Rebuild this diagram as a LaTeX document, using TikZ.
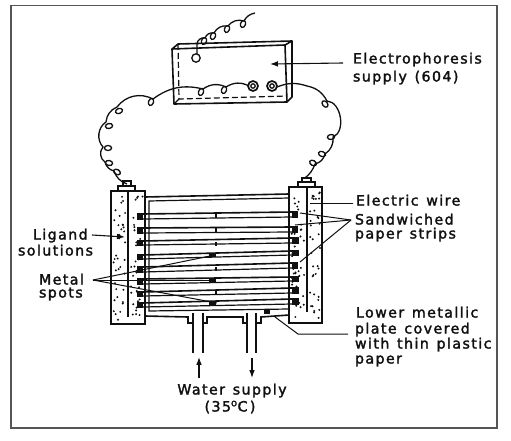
\documentclass[tikz,border=0pt]{standalone}
\usepackage{fontspec}
\setmainfont{DejaVu Sans}[FakeBold=2,LetterSpace=10,WordSpace=1.3]
\usetikzlibrary{arrows.meta}
\definecolor{scanInk}{HTML}{101010}
\definecolor{scanFrame}{HTML}{555555}

\begin{document}
\begin{tikzpicture}[
  x=1pt,y=-1pt,
  font=\rmfamily\fontsize{14.2}{15}\selectfont,
  every node/.style={text=scanInk,outer sep=0pt},
  lab/.style={anchor=west,inner sep=0pt,text height=10pt,text depth=3pt},
  wall/.style={line width=1.6pt,draw=scanInk},
  thin wall/.style={line width=1.2pt,draw=scanInk},
  wire/.style={line width=1.3pt,draw=scanInk},
  lead/.style={line width=1pt,draw=scanInk},
  flow/.style={-{Latex[length=2.8mm,width=2mm]},line width=1.1pt,draw=scanInk}
]
\path[use as bounding box] (0,0) rectangle (511,441);
\draw[line width=1.4pt,draw=scanFrame] (11,5.5) rectangle (497,428);
% supply box
\draw[wall,line join=round] (172,49) -- (285,45) -- (287,102) -- (174,104) -- cycle;
\draw[wall,line join=round] (172,49) -- (178,44) -- (292,41) -- (292,97) -- (287,102);
\draw[wall] (285,45) -- (292,41);
\draw[thin wall,dash pattern=on 6pt off 3pt] (178,44) -- (179,99) -- (287,96);
\draw[thin wall] (179,99) -- (174,104);
\draw[wire] (196,58) circle (4.2);
\foreach \tx in {253,272}{
  \draw[line width=1.7pt,draw=scanInk] (\tx,86) circle (5);
  \draw[wire] (\tx,86) circle (2.2);
}
% wires
\draw[wire] (197,54) -- (197,44) to[bend left=50] (205,38) to[bend left=40] (214,33)
  to[bend left=35] (228,26) to[bend left=35] (244,21) to[bend left=25] (255,13);
\draw[wire] (249,86) to[bend right=30] (226,87) to[bend right=30] (203,89) to[bend right=25] (153,99)
  to[bend right=40] (117,107) to[bend right=30] (106,122) to[bend right=50] (103,147)
  to[bend right=50] (105,162) to[bend right=30] (114,171) to[bend right=25] (127,184);
\draw[wire] (277,87) to[bend left=20] (307,86) to[bend left=25] (327,101) to[bend left=78] (333,137)
  to[bend left=30] (325,154) to[bend left=30] (315,164) to[bend left=15] (305,178);
\foreach \lx/\ly/\lang in {204/41/70,213/36/70,227/29/70,243/24/70,
    224/90/70,201/92/70,151/102/70,119/111/20,109/126/10,108/148/0,109/163/-10,117/172/-30,
    325/104/-50,331/137/5,322/154/-20,313/163/-30}{
  \draw[wire,rotate around={\lang:(\lx,\ly)}] (\lx,\ly) ellipse [x radius=3.6,y radius=2.5];
}
% ligand columns
\draw[wall,fill=white] (111,191) rectangle (145,324);
\draw[wall,fill=white] (289,187) rectangle (322,323);
\draw[line width=2.2pt,draw=scanInk] (128,191) -- (128,317);
\draw[line width=2.2pt,draw=scanInk] (307,187) -- (307,312);
\draw[wall] (118,191) -- (118,186) -- (135,186) -- (135,191);
\draw[wall] (123,186) -- (123,181) -- (131,181) -- (131,186);
\draw[wall] (298,187) -- (298,182) -- (315,182) -- (315,187);
\draw[wall] (302,182) -- (302,178) -- (311,178) -- (311,182);
\pgfmathsetseed{41}
\foreach \n in {1,...,36}{
  \fill[scanInk] ({113.5+12*rnd},{194+127*rnd}) circle (1.1);
  \fill[scanInk] ({131+12*rnd},{194+127*rnd}) circle (1.1);
  \fill[scanInk] ({291.5+13*rnd},{190+130*rnd}) circle (1.1);
  \fill[scanInk] ({310+10*rnd},{190+130*rnd}) circle (1.1);
}
% tank
\draw[wall] (145,197) -- (289,194);
\draw[thin wall] (289,198) -- (149,201) -- (149,311) -- (289,309);
\draw[wall] (145,316) -- (188,317) -- (188,323) -- (193,323);
\draw[wall] (203,323) -- (207,323) -- (207,317) -- (243,317) -- (243,323) -- (247,323);
\draw[wall] (256,323) -- (261,323) -- (261,317) -- (289,315);
\foreach \px in {193,203,247,256}{
  \draw[wall] (\px,313) -- (\px,353);
}
\fill[scanInk] (264,310) rectangle (270,313.5);
% paper strips
\foreach \ya/\yb/\yc/\yd/\bw in {214/219/212/217/4,228/233/227/232/4,241/245/238/243/5,255/259/251/255/5,
    267/272/263/268/4,279/284/277/281/5,292/296/288/293/5,303/307/299/304/5}{
  \draw[line width=1.6pt,draw=scanInk] (143,\ya) -- (292,\yc);
  \draw[thin wall] (143,\yb) -- (292,\yd);
  \fill[scanInk] (137,{\ya-1}) rectangle (143,{\yb+1});
  \fill[scanInk] (292,{\yc-1}) rectangle ({292+\bw+2},{\yd+1});
}
\foreach \sy in {215,229,243,268,292}{
  \fill[scanInk] (215.2,\sy-1) rectangle (217,\sy+3);
}
\foreach \sy in {255,280,303}{
  \fill[scanInk] (209,\sy-1) rectangle (216,\sy+2);
}
% labels
\node[lab] (ephor) at (353,60) {Electrophoresis};
\node[lab] (supply) at (353,78) {supply (604)};
\node[lab] (elwire) at (356,202) {Electric wire};
\node[lab] (sandw) at (355,221) {Sandwiched};
\node[lab] (strips) at (355,235) {paper strips};
\node[lab] (lower) at (356,314) {Lower metallic};
\node[lab] (plate) at (355,330) {plate covered};
\node[lab] (thin) at (355,345) {with thin plastic};
\node[lab] (paper) at (355,360) {paper};
\node[lab] (ligand) at (33,236) {Ligand};
\node[lab] (soln) at (18,252) {solutions};
\node[lab] (metal) at (39,281) {Metal};
\node[lab] (spots) at (39,294) {spots};
\node[lab,anchor=center] (water) at (232,391) {Water supply};
\node[lab,anchor=center] (temp) at (230,408) {(35\textsuperscript{o}C\,)};
% leaders
\coordinate (faceTip) at (270,64);
\coordinate (ephorEnd) at (343,63);
\coordinate (ligandEnd) at (92,235);
\coordinate (ligandTip) at (125,237);
\coordinate (spotApex) at (93,280);
\coordinate (sandApex) at (351,220);
\coordinate (wireEnd) at (353,203);
\coordinate (plateEnd) at (348,334);
\coordinate (plateKnee) at (298,334);
\draw[flow] (ephorEnd) -- (faceTip);
\draw[flow] (ligandEnd) -- (ligandTip);
\draw[lead] (spotApex) -- (215,255);
\draw[lead] (spotApex) -- (210,280);
\draw[lead] (spotApex) -- (217,303);
\draw[lead] (wireEnd) -- (310,203);
\draw[lead] (sandApex) -- (300,213);
\draw[lead] (sandApex) -- (295,225);
\draw[lead] (sandApex) -- (300,262);
\draw[lead] (plateEnd) -- (plateKnee) -- (275,317);
% water arrows
\coordinate (inTail) at (199,378);
\coordinate (inTip) at (199,357);
\coordinate (outTail) at (252,358);
\coordinate (outTip) at (252,378);
\draw[flow] (inTail) -- (inTip);
\draw[flow] (outTail) -- (outTip);
\end{tikzpicture}
\end{document}
